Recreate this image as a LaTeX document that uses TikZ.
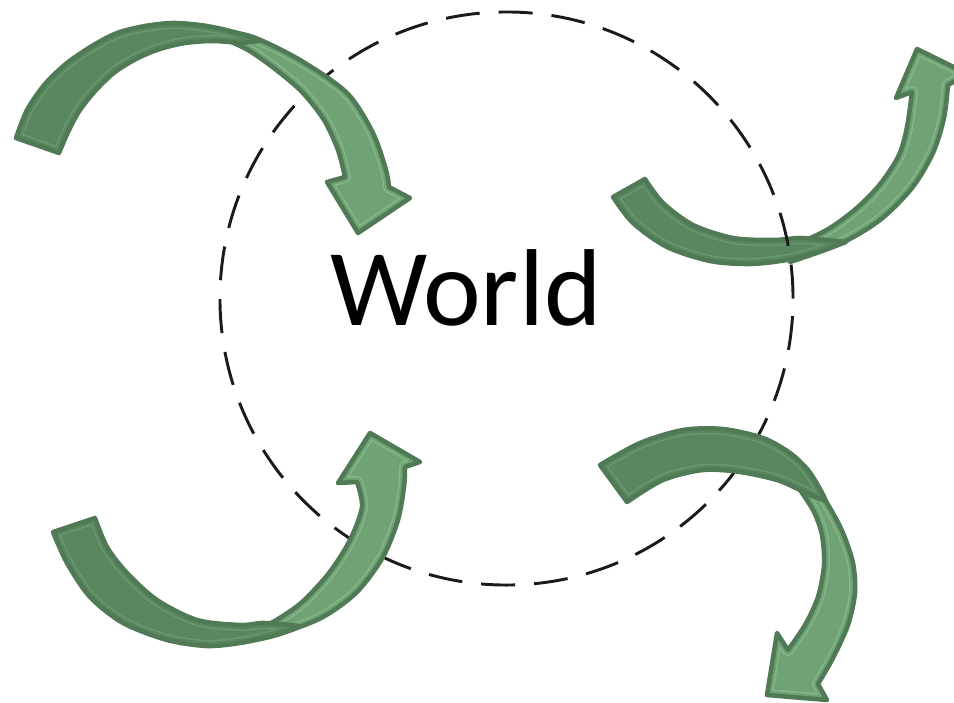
\documentclass[tikz,border=0pt]{standalone}
\usepackage{fontspec}
\newfontfamily\worldfont{Carlito}
\definecolor{dk}{HTML}{5A8660}
\definecolor{dkline}{HTML}{6A9970}
\definecolor{lt}{HTML}{6FA275}
\definecolor{ltline}{HTML}{86B888}
\definecolor{bord}{HTML}{4F7A55}
\definecolor{dashclr}{HTML}{1A1A1A}
\newcommand\ribbonpiece[3]{%
  \fill[#1] #3;
  \begin{scope}
    \clip #3;
    \draw[draw=#2, line width=9pt, line join=round] #3;
    \draw[draw=#1, line width=6.8pt, line join=round] #3;
  \end{scope}
  \draw[draw=bord, line width=3.4pt, line join=round, line cap=round] #3;
}
% arrow 1 (top left)
\def\aOneLight{plot[smooth] coordinates {(218,30) (253,37) (300,60) (347,93) (373,133) (386,170) (389,187)} -- (410,198) -- (358,233) -- (327,182) -- plot[smooth] coordinates {(345,177) (338,150) (324,120) (302,92) (275,69) (248,50) (222,38)} -- cycle}
\def\aOneDark{plot[smooth] coordinates {(16,138) (27,110) (45,84) (67,63) (92,46) (117,33) (145,26) (173,23) (200,25) (222,29) (244,35) (260,41)} -- plot[smooth] coordinates {(240,43) (213,41) (185,43) (160,49) (138,58) (115,72) (96,90) (80,110) (69,130) (59,153)} -- cycle}
% arrow 2 (top right)
\def\aTwoLight{plot[smooth] coordinates {(790,262) (840,244) (880,220) (912,188) (933,153) (944,118) (948,85)} -- (968,74) -- (917,49) -- (896,98) -- plot[smooth] coordinates {(912,92) (907,127) (899,155) (881,183) (858,207) (830,228) (800,243)} -- cycle}
\def\aTwoDark{plot[smooth] coordinates {(613,197) (633,223) (667,247) (710,261) (750,264) (787,260) (815,253) (835,246) (846,242)} -- plot[smooth] coordinates {(826,240) (800,238) (773,240) (733,238) (693,225) (663,203) (645,179)} -- cycle}
% arrow 3 (bottom left)
\def\aThreeLight{plot[smooth] coordinates {(255,640) (280,634) (323,617) (357,592) (383,557) (398,520) (404,487) (405,467)} -- (420,462) -- (370,433) -- (338,483) -- plot[smooth] coordinates {(357,482) (362,507) (350,540) (329,573) (301,603) (273,622) (252,632)} -- cycle}
\def\aThreeDark{plot[smooth] coordinates {(53,532) (67,563) (90,597) (123,623) (167,640) (207,646) (240,643) (268,637) (290,630) (299,626)} -- plot[smooth] coordinates {(281,624) (262,623) (240,625) (197,620) (157,600) (127,573) (107,547) (95,518)} -- cycle}
% arrow 4 (bottom right)
\def\aFourLight{plot[smooth] coordinates {(798,468) (815,485) (830,508) (843,533) (853,563) (855,593) (848,625) (833,658) (818,684)} -- (827,700) -- (767,695) -- (777,633) -- plot[smooth] coordinates {(788,650) (805,625) (818,597) (824,565) (822,535) (814,512) (800,490) (790,478)} -- cycle}
\def\aFourDark{plot[smooth] coordinates {(600,465) (640,443) (683,430) (723,429) (763,438) (790,453) (808,470) (820,489) (826,501)} -- plot[smooth] coordinates {(812,496) (800,490) (777,480) (740,472) (703,470) (663,480) (627,502)} -- cycle}
\begin{document}
\begin{tikzpicture}[x=0.75pt,y=-0.75pt]
\useasboundingbox (0,0) rectangle (954,703);
\fill[white] (0,0) rectangle (954,703);
% arrow 2 lies under the circle
\ribbonpiece{lt}{ltline}{\aTwoLight}
\ribbonpiece{dk}{dkline}{\aTwoDark}
% dashed circle
\draw[dashclr, line width=2.2pt, dash pattern=on 25.5pt off 14.25pt] (506.5,298.5) circle[radius=214.9pt];
% other arrows above the circle
\ribbonpiece{lt}{ltline}{\aOneLight}
\ribbonpiece{dk}{dkline}{\aOneDark}
\ribbonpiece{lt}{ltline}{\aThreeLight}
\ribbonpiece{dk}{dkline}{\aThreeDark}
\ribbonpiece{lt}{ltline}{\aFourLight}
\ribbonpiece{dk}{dkline}{\aFourDark}
% label
\node[anchor=base, inner sep=0pt, font=\worldfont\fontsize{82}{90}\selectfont] (world) at (466,325.5) {World};
\end{tikzpicture}
\end{document}
